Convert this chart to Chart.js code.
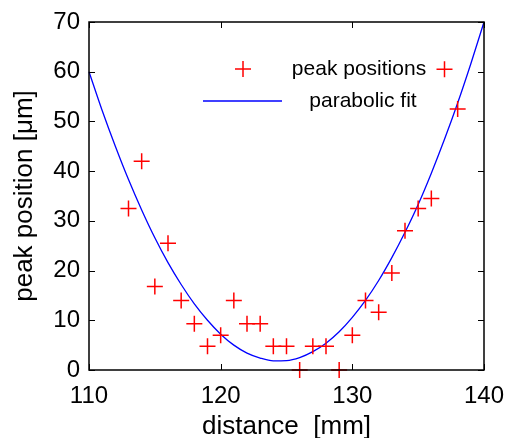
<!DOCTYPE html>
<html>
<head>
<meta charset="utf-8">
<script src="https://cdn.jsdelivr.net/npm/chart.js@4/dist/chart.umd.min.js"></script>
<style>
  html, body { margin: 0; padding: 0; background: #fff; }
  #wrap { width: 508px; height: 438px; }
</style>
</head>
<body>
<div id="wrap"><canvas id="chart" width="508" height="438"></canvas></div>
<script>
// measured peak positions
const distance = [113, 114, 115, 116, 117, 118, 119, 120, 121, 122, 123, 124, 125,
                  126, 127, 128, 129, 130, 131, 132, 133, 134, 135, 136, 137, 138];
const peakPos = [32.5, 42, 16.8, 25.5, 14, 9.3, 4.8, 7, 14, 9.3, 9.3, 4.8, 4.8,
                 0, 4.8, 4.8, 0, 7, 14, 11.6, 19.5, 28, 32.5, 34.5, 60.5, 52.5];

// parabolic fit, every 1 mm
const fitX = [110, 111, 112, 113, 114, 115, 116, 117, 118, 119, 120, 121, 122, 123, 124, 125,
              126, 127, 128, 129, 130, 131, 132, 133, 134, 135, 136, 137, 138, 139, 140];
const fitY = [60.0, 52.2, 45.0, 38.3, 32.2, 26.6, 21.6, 17.2, 13.3, 10.0, 7.2, 5.0, 3.4, 2.4, 1.85, 1.9,
              2.5, 3.7, 5.4, 7.7, 10.6, 14.0, 18.0, 22.6, 27.7, 33.3, 39.6, 46.4, 53.7, 61.6, 70.0];

const xTicks = [110, 120, 130, 140];
const yTicks = [0, 10, 20, 30, 40, 50, 60, 70];

const FONT = "'Liberation Sans', Arial, Helvetica, sans-serif";

/*
* Draws the box round the plot with MATLAB style inward ticks
*/
const boxPlugin = {
    id: 'box',
    afterDraw(chart) {
        const ctx = chart.ctx;
        const a = chart.chartArea;
        const xs = chart.scales.x;
        const ys = chart.scales.y;
        const len = 6;
        ctx.save();
        ctx.strokeStyle = '#000';
        ctx.lineWidth = 1;
        ctx.beginPath();
        xTicks.forEach(function(v) {
            var px = Math.round(xs.getPixelForValue(v)) + 0.5;
            ctx.moveTo(px, a.bottom); ctx.lineTo(px, a.bottom - len);
            ctx.moveTo(px, a.top); ctx.lineTo(px, a.top + len);
        });
        yTicks.forEach(function(v) {
            var py = Math.round(ys.getPixelForValue(v)) + 0.5;
            ctx.moveTo(a.left, py); ctx.lineTo(a.left + len, py);
            ctx.moveTo(a.right, py); ctx.lineTo(a.right - len, py);
        });
        ctx.stroke();
        ctx.lineWidth = 1.5;
        ctx.strokeRect(a.left, a.top, a.right - a.left, a.bottom - a.top);
        ctx.restore();
    }
};

/*
* Legend drawn inside the plot area, no frame
*/
const legendPlugin = {
    id: 'insideLegend',
    afterDraw(chart) {
        const ctx = chart.ctx;
        const a = chart.chartArea;
        ctx.save();
        ctx.font = '21px ' + FONT;
        ctx.fillStyle = '#000';
        ctx.textAlign = 'center';
        ctx.textBaseline = 'middle';

        // peak positions entry
        var mx = a.left + 154, my = a.top + 47;
        ctx.strokeStyle = '#ff0000';
        ctx.lineWidth = 1.5;
        ctx.beginPath();
        ctx.moveTo(mx - 8, my); ctx.lineTo(mx + 8, my);
        ctx.moveTo(mx, my - 8); ctx.lineTo(mx, my + 8);
        ctx.stroke();
        ctx.fillText('peak positions', a.left + 270, my);

        // parabolic fit entry
        var ly = a.top + 79;
        ctx.strokeStyle = '#0000ff';
        ctx.lineWidth = 1.3;
        ctx.beginPath();
        ctx.moveTo(a.left + 114, ly); ctx.lineTo(a.left + 193, ly);
        ctx.stroke();
        ctx.fillText('parabolic fit', a.left + 274, ly);
        ctx.restore();
    }
};

const peakData = distance.map(function(d, i) { return {x: d, y: peakPos[i]}; });
const fitData = fitX.map(function(d, i) { return {x: d, y: fitY[i]}; });

new Chart(document.getElementById('chart'), {
    type: 'scatter',
    data: {
        datasets: [
            {
                label: 'parabolic fit',
                data: fitData,
                showLine: true,
                borderColor: '#0000ff',
                borderWidth: 1.3,
                pointRadius: 0,
                cubicInterpolationMode: 'monotone',
                clip: false,
                order: 2
            },
            {
                label: 'peak positions',
                data: peakData,
                pointStyle: 'cross',
                pointRadius: 8,
                pointBorderWidth: 1.5,
                borderColor: '#ff0000',
                backgroundColor: '#ff0000',
                clip: false,
                order: 1
            }
        ]
    },
    options: {
        responsive: false,
        animation: false,
        layout: { padding: { left: 0, right: 24, top: 22, bottom: 0 } },
        plugins: {
            legend: { display: false },
            tooltip: { enabled: false }
        },
        scales: {
            x: {
                type: 'linear',
                min: 110,
                max: 140,
                afterBuildTicks: function(scale) {
                    scale.ticks = xTicks.map(function(v) { return {value: v}; });
                },
                afterFit: function(scale) {
                    scale.height = 68;
                    scale.paddingLeft = 0;
                    scale.paddingRight = 0;
                },
                grid: { display: false, drawTicks: false },
                border: { display: false },
                ticks: { color: '#000', padding: 12, maxRotation: 0, font: { family: FONT, size: 24 } },
                title: { display: true, text: 'distance  [mm]', color: '#000', padding: { top: 0, bottom: -4 }, font: { family: FONT, size: 26 } }
            },
            y: {
                type: 'linear',
                min: 0,
                max: 70,
                afterBuildTicks: function(scale) {
                    scale.ticks = yTicks.map(function(v) { return {value: v}; });
                },
                afterFit: function(scale) {
                    scale.width = 89;
                    scale.paddingTop = 0;
                    scale.paddingBottom = 0;
                },
                grid: { display: false, drawTicks: false },
                border: { display: false },
                ticks: { color: '#000', padding: 9, font: { family: FONT, size: 24 } },
                title: { display: true, text: 'peak position [\u03bcm]', color: '#000', padding: { top: 9, bottom: 0 }, font: { family: FONT, size: 26 } }
            }
        }
    },
    plugins: [boxPlugin, legendPlugin]
});
</script>
</body>
</html>
